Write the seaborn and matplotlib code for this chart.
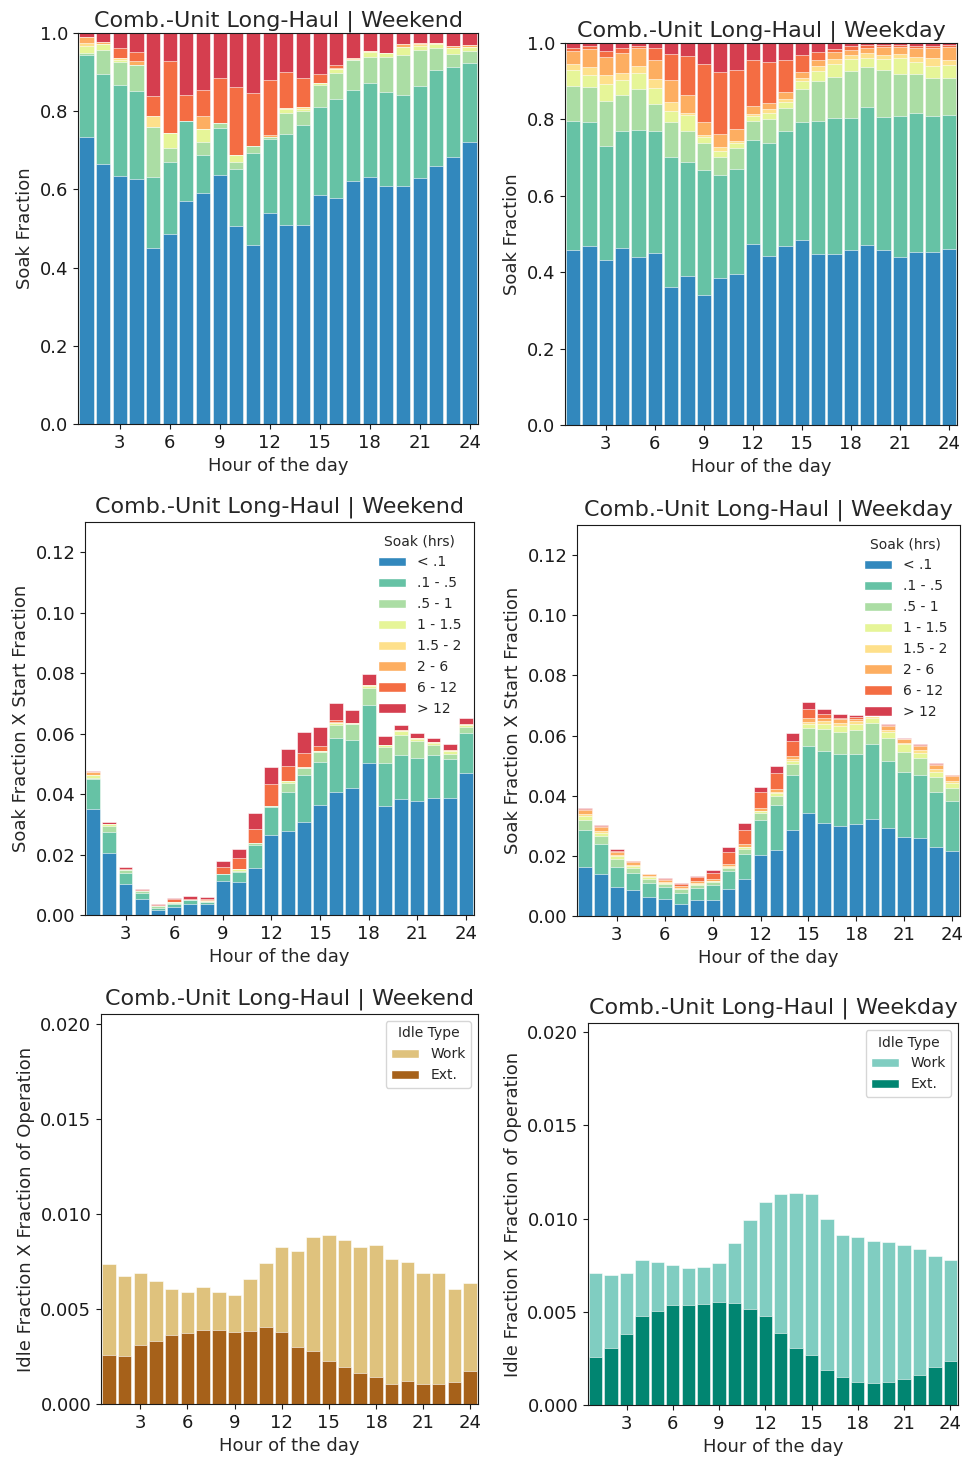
import numpy as np
import matplotlib
matplotlib.use("Agg")
import matplotlib.pyplot as plt
from matplotlib.patches import Patch
from matplotlib.ticker import FormatStrFormatter
import seaborn as sns

# ---------------------------------------------------------------- data
hours = list(range(1, 25))
soak_bins = ["< .1", ".1 - .5", ".5 - 1", "1 - 1.5", "1.5 - 2", "2 - 6", "6 - 12", "> 12"]
soak_colors = ["#3288bd", "#66c2a5", "#abdda4", "#e6f598",
               "#fee08b", "#fdae61", "#f46d43", "#d53e4f"]

# Soak-time fractions by hour, weekend
we_lt_01 = [.733, .665, .635, .627, .449, .487, .570, .590, .637, .506, .458, .540,
            .509, .509, .586, .579, .621, .631, .608, .608, .628, .659, .684, .720]
we_01_05 = [.212, .230, .231, .224, .182, .184, .204, .099, .119, .146, .234, .189,
            .232, .256, .226, .253, .233, .241, .242, .233, .236, .246, .229, .204]
we_05_1 = [.005, .062, .061, .068, .129, .036, 0, .032, .013, .019, .019, .005,
           .055, .036, .055, .065, .077, .067, .089, .103, .093, .056, .033, .029]
we_1_15 = [.018, .015, .005, 0, 0, .037, 0, .033, 0, .018, 0, 0,
           .010, .004, .006, .010, 0, .012, .010, .020, .011, .010, .016, .011]
we_15_2 = [.006, 0, .004, 0, .027, 0, 0, 0, 0, 0, 0, 0,
           .002, .005, 0, 0, .002, .004, 0, 0, .003, .003, 0, 0]
we_2_6 = [.015, .004, 0, .010, 0, 0, 0, .035, 0, 0, 0, .004,
          0, 0, 0, .004, .002, 0, 0, .008, .003, 0, .005, .006]
we_6_12 = [0, 0, .026, .022, .052, .184, .067, .065, .117, .173, .136, .143,
           .091, .074, .022, .007, 0, 0, 0, 0, 0, 0, 0, 0]
we_gt_12 = [.011, .024, .038, .049, .161, .072, .159, .146, .114, .138, .153, .119,
            .101, .116, .105, .082, .065, .045, .051, .028, .026, .026, .033, .030]

# Soak-time fractions by hour, weekday
wd_lt_01 = [.458, .469, .433, .463, .441, .451, .360, .390, .340, .385, .396, .474,
            .442, .469, .483, .447, .447, .458, .472, .458, .441, .454, .454, .461]
wd_01_05 = [.339, .325, .297, .307, .331, .319, .341, .298, .328, .270, .274, .272,
            .297, .301, .311, .350, .357, .346, .361, .348, .367, .363, .355, .351]
wd_05_1 = [.090, .090, .119, .093, .108, .070, .093, .081, .069, .047, .056, .051,
           .062, .061, .085, .104, .107, .123, .103, .123, .112, .103, .099, .096]
wd_1_15 = [.042, .032, .044, .041, .042, .041, .028, .042, .018, .015, .012, .013,
           .017, .015, .021, .027, .034, .030, .026, .029, .042, .029, .033, .035]
wd_15_2 = [.016, .022, .022, .018, .019, .024, .024, .007, .004, .011, .005, .005,
           .010, .008, .008, .012, .012, .012, .011, .011, .009, .015, .019, .012]
wd_2_6 = [.034, .045, .048, .051, .047, .050, .058, .045, .035, .034, .031, .020,
          .015, .019, .017, .015, .019, .013, .015, .021, .019, .024, .028, .035]
wd_6_12 = [.009, .008, .017, .013, .003, .031, .067, .104, .151, .161, .155, .121,
           .107, .082, .044, .022, .008, .009, .007, .005, .005, .005, .005, .005]
wd_gt_12 = [.012, .009, .020, .014, .009, .014, .029, .033, .055, .077, .071, .044,
            .050, .045, .031, .023, .016, .009, .005, .005, .005, .007, .007, .005]

# Fraction of engine starts falling in each hour
we_start_frac = [.0477, .0308, .0159, .0087, .0038, .0056, .0062, .0061, .0178, .0219, .0336, .0490,
                 .0548, .0606, .0623, .0702, .0679, .0798, .0591, .0630, .0602, .0586, .0564, .0652]
wd_start_frac = [.0359, .0301, .0222, .0184, .0140, .0126, .0111, .0133, .0153, .0229, .0309, .0430,
                 .0499, .0610, .0710, .0689, .0670, .0668, .0685, .0638, .0593, .0572, .0508, .0470]

# Idle fraction x fraction of operation, split by idle type
idle_types = ["Work", "Ext."]
we_idle_work = [.00477, .00421, .00376, .00315, .00241, .00220, .00226, .00203, .00196, .00274, .00337, .00444,
                .00502, .00599, .00662, .00672, .00661, .00695, .00655, .00626, .00584, .00582, .00490, .00465]
we_idle_ext = [.00257, .00252, .00311, .00330, .00362, .00371, .00388, .00388, .00376, .00385, .00404, .00379,
               .00302, .00280, .00226, .00192, .00164, .00142, .00105, .00121, .00103, .00105, .00115, .00171]
wd_idle_work = [.00454, .00392, .00327, .00299, .00261, .00218, .00200, .00197, .00207, .00320, .00482, .00609,
                .00742, .00832, .00860, .00810, .00763, .00775, .00766, .00752, .00718, .00673, .00598, .00541]
wd_idle_ext = [.00255, .00304, .00382, .00480, .00505, .00534, .00534, .00541, .00554, .00550, .00513, .00480,
               .00388, .00307, .00270, .00186, .00148, .00125, .00116, .00125, .00139, .00163, .00204, .00238]

we_idle_colors = ["#dfc27d", "#a6611a"]
wd_idle_colors = ["#80cdc1", "#018571"]

x_ticks = [3, 6, 9, 12, 15, 18, 21, 24]
idle_ticks = [0.0, 0.005, 0.010, 0.015, 0.020]

# ---------------------------------------------------------------- style
sns.set_style("ticks")
plt.rcParams["font.family"] = ["DejaVu Sans"]
plt.rcParams["xtick.labelsize"] = 13
plt.rcParams["ytick.labelsize"] = 13
plt.rcParams["axes.labelsize"] = 13
plt.rcParams["axes.edgecolor"] = "0.1"
plt.rcParams["xtick.color"] = "0.1"
plt.rcParams["ytick.color"] = "0.1"

W, H = 967, 1458
fig = plt.figure(figsize=(W / 100, H / 100), dpi=100)


def add_ax(left, top, right, bottom):
    return fig.add_axes([left / W, 1 - bottom / H, (right - left) / W, (bottom - top) / H])


def stacked(ax, layers, colors):
    """Draw stacked bars as overlapping cumulative sums, tallest first."""
    tops = np.cumsum(np.array(layers, dtype=float), axis=0)
    for top, col in reversed(list(zip(tops, colors))):
        sns.barplot(x=hours, y=top, native_scale=True, color=col, saturation=1,
                    width=0.86, edgecolor="white", linewidth=0.4, errorbar=None, ax=ax)


def finish(ax, title, ylabel, ylim, pad):
    ax.set_xlim(0.5, 24.5)
    ax.set_ylim(*ylim)
    ax.set_xticks(x_ticks)
    ax.set_xlabel("Hour of the day")
    ax.set_ylabel(ylabel)
    ax.set_title(title, fontsize=16, pad=pad)


we_layers = [we_lt_01, we_01_05, we_05_1, we_1_15, we_15_2, we_2_6, we_6_12, we_gt_12]
wd_layers = [wd_lt_01, wd_01_05, wd_05_1, wd_1_15, wd_15_2, wd_2_6, wd_6_12, wd_gt_12]

soak_handles = [Patch(facecolor=c, edgecolor="white", label=b) for b, c in zip(soak_bins, soak_colors)]

# Row 1: soak fraction
ax = add_ax(78, 33, 478, 424)
stacked(ax, we_layers, soak_colors)
finish(ax, "Comb.-Unit Long-Haul | Weekend", "Soak Fraction", (0, 1.0), 5)

ax = add_ax(565, 43, 957, 425)
stacked(ax, wd_layers, soak_colors)
finish(ax, "Comb.-Unit Long-Haul | Weekday", "Soak Fraction", (0, 1.0), 5)

# Row 2: soak fraction weighted by start fraction
ax = add_ax(85, 522, 474, 915)
stacked(ax, [np.array(l) * np.array(we_start_frac) for l in we_layers], soak_colors)
finish(ax, "Comb.-Unit Long-Haul | Weekend", "Soak Fraction X Start Fraction", (0, 0.13), 7)
ax.legend(handles=soak_handles, title="Soak (hrs)", fontsize=10, title_fontsize=10,
          frameon=False, loc="upper right")

ax = add_ax(577, 525, 960, 916)
stacked(ax, [np.array(l) * np.array(wd_start_frac) for l in wd_layers], soak_colors)
finish(ax, "Comb.-Unit Long-Haul | Weekday", "Soak Fraction X Start Fraction", (0, 0.13), 7)
ax.legend(handles=soak_handles, title="Soak (hrs)", fontsize=10, title_fontsize=10,
          frameon=False, loc="upper right")

# Row 3: idle fraction
idle_panels = [
    ((101, 1014, 478, 1404), we_idle_work, we_idle_ext, we_idle_colors, "Comb.-Unit Long-Haul | Weekend"),
    ((588, 1023, 958, 1405), wd_idle_work, wd_idle_ext, wd_idle_colors, "Comb.-Unit Long-Haul | Weekday"),
]
for box, work, ext, cols, title in idle_panels:
    ax = add_ax(*box)
    stacked(ax, [ext, work], [cols[1], cols[0]])
    finish(ax, title, "Idle Fraction X Fraction of Operation", (0, 0.0205), 7)
    ax.set_yticks(idle_ticks)
    ax.yaxis.set_major_formatter(FormatStrFormatter("%.3f"))
    handles = [Patch(facecolor=cols[0], label=idle_types[0]),
               Patch(facecolor=cols[1], label=idle_types[1])]
    ax.legend(handles=handles, title="Idle Type", fontsize=10, title_fontsize=10,
              loc="upper right", frameon=True)

fig.savefig("out.png", dpi=100)
